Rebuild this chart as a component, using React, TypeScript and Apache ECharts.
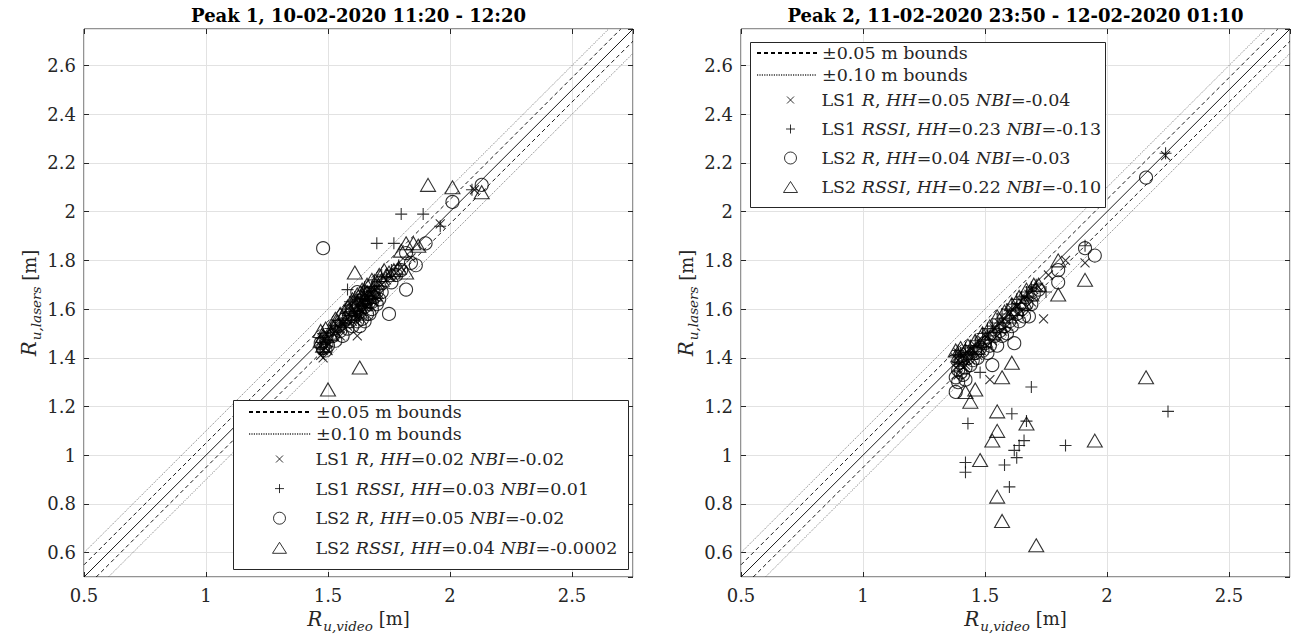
import React, { useEffect, useRef } from "react";
import * as echarts from "echarts";

const FONT = "'DejaVu Serif', serif";
const TXT = "#262626";

// ---- data ----
const titles = ["Peak 1, 10-02-2020 11:20 - 12:20", "Peak 2, 11-02-2020 23:50 - 12-02-2020 01:10"];

const identityLine = [[0.5, 0.5], [2.75, 2.75]];
const upper005 = [[0.5, 0.55], [2.7, 2.75]];
const lower005 = [[0.55, 0.5], [2.75, 2.7]];
const upper010 = [[0.5, 0.6], [2.65, 2.75]];
const lower010 = [[0.6, 0.5], [2.75, 2.65]];

const boundNames = ["±0.05 m bounds", "±0.10 m bounds"];

const p1Names = [
  "LS1 R, HH=0.02 NBI=-0.02",
  "LS1 RSSI, HH=0.03 NBI=0.01",
  "LS2 R, HH=0.05 NBI=-0.02",
  "LS2 RSSI, HH=0.04 NBI=-0.0002",
];
const p2Names = [
  "LS1 R, HH=0.05 NBI=-0.04",
  "LS1 RSSI, HH=0.23 NBI=-0.13",
  "LS2 R, HH=0.04 NBI=-0.03",
  "LS2 RSSI, HH=0.22 NBI=-0.10",
];
const richNames: Record<string, string> = {
  "LS1 R, HH=0.02 NBI=-0.02": "LS1 {i|R}, {i|HH}=0.02 {i|NBI}=-0.02",
  "LS1 RSSI, HH=0.03 NBI=0.01": "LS1 {i|RSSI}, {i|HH}=0.03 {i|NBI}=0.01",
  "LS2 R, HH=0.05 NBI=-0.02": "LS2 {i|R}, {i|HH}=0.05 {i|NBI}=-0.02",
  "LS2 RSSI, HH=0.04 NBI=-0.0002": "LS2 {i|RSSI}, {i|HH}=0.04 {i|NBI}=-0.0002",
  "LS1 R, HH=0.05 NBI=-0.04": "LS1 {i|R}, {i|HH}=0.05 {i|NBI}=-0.04",
  "LS1 RSSI, HH=0.23 NBI=-0.13": "LS1 {i|RSSI}, {i|HH}=0.23 {i|NBI}=-0.13",
  "LS2 R, HH=0.04 NBI=-0.03": "LS2 {i|R}, {i|HH}=0.04 {i|NBI}=-0.03",
  "LS2 RSSI, HH=0.22 NBI=-0.10": "LS2 {i|RSSI}, {i|HH}=0.22 {i|NBI}=-0.10",
};

const p1LS1R = [
  [1.47, 1.41], [1.47, 1.45], [1.48, 1.43], [1.48, 1.47], [1.49, 1.44], [1.49, 1.5], [1.5, 1.46], [1.51, 1.48],
  [1.52, 1.5], [1.53, 1.51], [1.55, 1.52], [1.56, 1.54], [1.57, 1.55], [1.58, 1.53], [1.59, 1.57], [1.6, 1.59],
  [1.6, 1.55], [1.61, 1.58], [1.62, 1.49], [1.62, 1.61], [1.63, 1.6], [1.64, 1.63], [1.65, 1.61], [1.66, 1.64],
  [1.67, 1.62], [1.68, 1.66], [1.69, 1.65], [1.7, 1.69], [1.72, 1.7], [1.74, 1.72], [1.76, 1.73], [1.78, 1.75],
  [1.8, 1.77], [1.84, 1.81], [1.96, 1.95], [2.1, 2.09], [1.58, 1.6], [1.61, 1.63], [1.63, 1.57], [1.64, 1.59],
  [1.66, 1.61], [1.67, 1.68], [1.69, 1.63], [1.71, 1.66], [1.62, 1.56], [1.65, 1.66], [1.55, 1.49], [1.53, 1.54],
  [1.5, 1.43], [1.48, 1.4],
];
const p1LS1RSSI = [
  [1.47, 1.44], [1.47, 1.48], [1.48, 1.42], [1.48, 1.5], [1.49, 1.46], [1.5, 1.49], [1.51, 1.52], [1.53, 1.53],
  [1.54, 1.51], [1.56, 1.56], [1.57, 1.54], [1.58, 1.68], [1.59, 1.59], [1.6, 1.62], [1.61, 1.57], [1.62, 1.64],
  [1.63, 1.62], [1.64, 1.66], [1.65, 1.64], [1.66, 1.67], [1.67, 1.65], [1.68, 1.69], [1.69, 1.67], [1.7, 1.87],
  [1.7, 1.71], [1.72, 1.74], [1.74, 1.73], [1.76, 1.76], [1.77, 1.87], [1.79, 1.78], [1.8, 1.99], [1.89, 1.99],
  [1.96, 1.94], [2.09, 2.09], [1.59, 1.63], [1.61, 1.65], [1.63, 1.58], [1.64, 1.61], [1.66, 1.62], [1.68, 1.64],
  [1.69, 1.72], [1.71, 1.68], [1.62, 1.59], [1.55, 1.53], [1.52, 1.47], [1.57, 1.6], [1.65, 1.69],
];
const p1LS2R = [
  [1.48, 1.85], [1.47, 1.46], [1.48, 1.44], [1.49, 1.48], [1.5, 1.45], [1.52, 1.49], [1.53, 1.47], [1.55, 1.51],
  [1.56, 1.49], [1.58, 1.52], [1.59, 1.55], [1.6, 1.53], [1.61, 1.57], [1.62, 1.55], [1.62, 1.67], [1.63, 1.59],
  [1.64, 1.56], [1.65, 1.61], [1.66, 1.58], [1.67, 1.63], [1.68, 1.6], [1.69, 1.65], [1.7, 1.62], [1.72, 1.67],
  [1.75, 1.58], [1.76, 1.71], [1.78, 1.74], [1.8, 1.76], [1.82, 1.68], [1.82, 1.83], [1.84, 1.79], [1.86, 1.78],
  [1.9, 1.87], [2.01, 2.04], [2.13, 2.11], [1.6, 1.6], [1.62, 1.62], [1.64, 1.64], [1.66, 1.66], [1.68, 1.63],
  [1.7, 1.67], [1.57, 1.56], [1.54, 1.53], [1.63, 1.53], [1.65, 1.55], [1.67, 1.58], [1.71, 1.64], [1.49, 1.43],
];
const p1LS2RSSI = [
  [1.47, 1.47], [1.47, 1.51], [1.48, 1.49], [1.48, 1.45], [1.49, 1.52], [1.5, 1.27], [1.51, 1.5], [1.52, 1.53],
  [1.54, 1.55], [1.56, 1.57], [1.57, 1.55], [1.59, 1.6], [1.6, 1.58], [1.61, 1.75], [1.62, 1.63], [1.63, 1.36],
  [1.63, 1.61], [1.64, 1.66], [1.65, 1.64], [1.66, 1.67], [1.67, 1.65], [1.68, 1.68], [1.7, 1.71], [1.71, 1.74],
  [1.73, 1.76], [1.75, 1.75], [1.77, 1.76], [1.79, 1.77], [1.8, 1.84], [1.82, 1.87], [1.82, 1.75], [1.85, 1.87],
  [1.87, 1.86], [1.91, 2.11], [2.01, 2.1], [2.13, 2.08], [1.58, 1.61], [1.6, 1.64], [1.62, 1.66], [1.64, 1.68],
  [1.66, 1.7], [1.68, 1.72], [1.63, 1.59], [1.65, 1.62], [1.55, 1.58], [1.53, 1.56], [1.69, 1.66], [1.72, 1.72],
  [1.74, 1.74],
];

const p2LS1R = [
  [1.38, 1.36], [1.38, 1.4], [1.39, 1.33], [1.4, 1.38], [1.41, 1.41], [1.42, 1.37], [1.43, 1.42], [1.45, 1.43],
  [1.46, 1.45], [1.48, 1.44], [1.49, 1.47], [1.5, 1.49], [1.52, 1.31], [1.52, 1.5], [1.53, 1.47], [1.54, 1.52],
  [1.56, 1.54], [1.57, 1.51], [1.58, 1.56], [1.6, 1.58], [1.61, 1.6], [1.62, 1.57], [1.63, 1.61], [1.65, 1.63],
  [1.66, 1.65], [1.68, 1.66], [1.7, 1.68], [1.72, 1.69], [1.74, 1.56], [1.76, 1.74], [1.83, 1.8], [1.91, 1.79],
  [2.24, 2.23], [1.39, 1.42], [1.41, 1.36], [1.44, 1.39], [1.47, 1.41], [1.51, 1.45], [1.55, 1.49], [1.59, 1.53],
  [1.64, 1.58], [1.67, 1.61], [1.69, 1.63],
];
const p2LS1RSSI = [
  [1.38, 1.41], [1.39, 1.43], [1.4, 1.42], [1.42, 1.44], [1.44, 1.45], [1.46, 1.47], [1.48, 1.34], [1.49, 1.5],
  [1.51, 1.52], [1.53, 1.53], [1.55, 1.56], [1.57, 1.58], [1.59, 1.6], [1.61, 1.62], [1.63, 1.64], [1.65, 1.65],
  [1.67, 1.67], [1.69, 1.69], [1.71, 1.7], [1.75, 1.67], [1.91, 1.86], [2.24, 2.24], [1.69, 1.28], [2.25, 1.18],
  [1.61, 1.17], [1.43, 1.13], [1.67, 1.14], [1.66, 1.06], [1.64, 1.04], [1.62, 1.02], [1.63, 0.99], [1.83, 1.04],
  [1.42, 0.97], [1.42, 0.93], [1.58, 0.96], [1.6, 0.87], [1.39, 1.38], [1.41, 1.39], [1.43, 1.41], [1.45, 1.42],
  [1.47, 1.45], [1.5, 1.46], [1.52, 1.49], [1.56, 1.52], [1.6, 1.56], [1.64, 1.6], [1.68, 1.65],
];
const p2LS2R = [
  [1.38, 1.26], [1.38, 1.32], [1.39, 1.35], [1.39, 1.3], [1.4, 1.38], [1.41, 1.33], [1.42, 1.36], [1.43, 1.4],
  [1.45, 1.39], [1.46, 1.42], [1.48, 1.44], [1.5, 1.46], [1.51, 1.42], [1.53, 1.37], [1.54, 1.49], [1.56, 1.51],
  [1.58, 1.53], [1.6, 1.55], [1.61, 1.53], [1.62, 1.46], [1.63, 1.58], [1.65, 1.6], [1.67, 1.62], [1.68, 1.57],
  [1.7, 1.66], [1.72, 1.68], [1.8, 1.76], [1.8, 1.71], [1.91, 1.85], [1.95, 1.82], [2.16, 2.14], [1.4, 1.34],
  [1.42, 1.31], [1.44, 1.37], [1.47, 1.4], [1.49, 1.43], [1.52, 1.45], [1.55, 1.45], [1.57, 1.49], [1.59, 1.5],
  [1.64, 1.55], [1.66, 1.57], [1.69, 1.62],
];
const p2LS2RSSI = [
  [1.38, 1.43], [1.39, 1.41], [1.4, 1.44], [1.41, 1.4], [1.42, 1.43], [1.43, 1.45], [1.44, 1.42], [1.46, 1.47],
  [1.47, 1.44], [1.49, 1.5], [1.5, 1.47], [1.52, 1.53], [1.53, 1.5], [1.55, 1.57], [1.56, 1.53], [1.58, 1.59],
  [1.6, 1.57], [1.61, 1.62], [1.63, 1.6], [1.64, 1.65], [1.66, 1.63], [1.67, 1.68], [1.69, 1.66], [1.7, 1.7],
  [1.72, 1.7], [1.8, 1.8], [1.8, 1.66], [1.91, 1.72], [2.16, 1.32], [1.95, 1.06], [1.57, 1.32], [1.61, 1.38],
  [1.46, 1.27], [1.44, 1.22], [1.55, 1.18], [1.67, 1.13], [1.55, 1.1], [1.53, 1.06], [1.48, 0.98], [1.55, 0.83],
  [1.57, 0.73], [1.71, 0.63], [1.42, 1.26],
];

// ---- styling helpers ----
const SYM_X = "path://M0,0L10,10M0,10L10,0";
const SYM_PLUS = "path://M5,0L5,10M0,5L10,5";
const SYM_TRI = "path://M5,0L10,8.66L0,8.66Z";
const CLEAR = "rgba(0,0,0,0)";

// legend icons: full-width path boxes (w x 12) with the glyph centred at cx
function legendIcons(w: number, cx: number) {
  const box = `M0,0M${w},12`;
  return [
    `path://${box}M${cx - 3.5},2.5L${cx + 3.5},9.5M${cx - 3.5},9.5L${cx + 3.5},2.5`,
    `path://${box}M${cx},1.5L${cx},10.5M${cx - 4.5},6L${cx + 4.5},6`,
    `path://${box}M${cx - 6},6A6,6 0 1,0 ${cx + 6},6A6,6 0 1,0 ${cx - 6},6Z`,
    `path://${box}M${cx},0.5L${cx + 7},11.5L${cx - 7},11.5Z`,
  ];
}

const markerDefs = [
  { symbol: SYM_X, size: 9 },
  { symbol: SYM_PLUS, size: 12 },
  { symbol: "circle", size: 13 },
  { symbol: SYM_TRI, size: [15, 13] },
];

const GRIDS = [
  { left: 84, top: 29, width: 549, height: 548 },
  { left: 741, top: 29, width: 549, height: 548 },
];

const nameRich = {
  r: { fontFamily: FONT, fontStyle: "italic", fontSize: 20, color: TXT, padding: [0, 1, 0, 0] },
  s: { fontFamily: FONT, fontStyle: "italic", fontSize: 13.5, color: TXT, padding: [14, 0, 0, 0] },
  m: { fontFamily: FONT, fontSize: 18, color: TXT },
};

function xAxes(gi: number) {
  const common = {
    type: "value",
    gridIndex: gi,
    min: 0.5,
    max: 2.75,
    splitNumber: 4,
    minInterval: 0.5,
    maxInterval: 0.5,
  };
  return [
    {
      ...common,
      position: "bottom",
      axisLine: { show: false },
      axisTick: { show: true, inside: true, length: 5, lineStyle: { color: TXT } },
      axisLabel: { color: TXT, fontSize: 18, fontFamily: FONT, margin: 9, showMaxLabel: false },
      splitLine: { show: true, lineStyle: { color: "#e2e2e2", width: 1 } },
      name: "{r|R}{s|u,video}{m| [m]}",
      nameLocation: "middle",
      nameGap: 27,
      nameTextStyle: { rich: nameRich },
    },
    {
      ...common,
      position: "top",
      axisLine: { show: false },
      axisTick: { show: true, inside: true, length: 5, lineStyle: { color: TXT } },
      axisLabel: { show: false },
      splitLine: { show: false },
    },
  ];
}

function yAxes(gi: number) {
  const common = {
    type: "value",
    gridIndex: gi,
    min: 0.5,
    max: 2.75,
    splitNumber: 10,
    minInterval: 0.2,
    maxInterval: 0.2,
  };
  return [
    {
      ...common,
      position: "left",
      axisLine: { show: false },
      axisTick: { show: true, inside: true, length: 5, lineStyle: { color: TXT } },
      axisLabel: {
        color: TXT,
        fontSize: 18,
        fontFamily: FONT,
        margin: 8,
        showMinLabel: false,
        showMaxLabel: false,
      },
      splitLine: { show: true, lineStyle: { color: "#e2e2e2", width: 1 } },
      name: "{r|R}{s|u,lasers}{m| [m]}",
      nameLocation: "middle",
      nameGap: 32,
      nameTextStyle: { rich: nameRich },
    },
    {
      ...common,
      position: "right",
      axisLine: { show: false },
      axisTick: { show: true, inside: true, length: 5, lineStyle: { color: TXT } },
      axisLabel: { show: false },
      splitLine: { show: false },
    },
  ];
}

function plotSeries(gi: number, names: string[], sets: number[][][]) {
  const ax = { xAxisIndex: gi * 2, yAxisIndex: gi * 2 };
  const line = (data: number[][], name: string | undefined, lineStyle: any) => ({
    type: "line",
    name,
    ...ax,
    data,
    symbol: "none",
    silent: true,
    z: 2,
    itemStyle: { color: CLEAR, borderWidth: 0 },
    lineStyle,
  });
  const dash = { color: "#000", width: 0.9, type: [4, 3] };
  const dot = { color: "#666", width: 0.8, type: [1.2, 1.2] };
  const out: any[] = [
    line(identityLine, undefined, { color: "#000", width: 0.9, type: "solid" }),
    line(upper005, boundNames[0], dash),
    line(lower005, boundNames[0], dash),
    line(upper010, boundNames[1], dot),
    line(lower010, boundNames[1], dot),
  ];
  sets.forEach((d, i) => {
    out.push({
      type: "scatter",
      name: names[i],
      ...ax,
      data: d,
      symbol: markerDefs[i].symbol,
      symbolSize: markerDefs[i].size,
      itemStyle: { color: CLEAR, borderColor: "#000", borderWidth: 1.1 },
      z: 3,
    });
  });
  return out;
}

const legendText = {
  fontFamily: FONT,
  fontSize: 17.5,
  color: TXT,
  lineHeight: 20,
  rich: {
    i: { fontFamily: FONT, fontStyle: "italic", fontSize: 17.5, lineHeight: 20, color: TXT },
  },
};

function legends(
  left: number,
  linesTop: number,
  markTop: number,
  iconW: number,
  markerCx: number,
  gap: number,
  names: string[]
) {
  const icons = legendIcons(iconW, markerCx);
  return [
    {
      orient: "vertical",
      left,
      top: linesTop,
      padding: 0,
      itemWidth: iconW,
      itemHeight: 20,
      itemGap: 2,
      selectedMode: false,
      z: 20,
      textStyle: legendText,
      itemStyle: { color: CLEAR, borderWidth: 0 },
      data: boundNames,
    },
    {
      orient: "vertical",
      left,
      top: markTop,
      padding: 0,
      itemWidth: iconW,
      itemHeight: 12,
      itemGap: gap,
      selectedMode: false,
      z: 20,
      textStyle: legendText,
      itemStyle: { color: CLEAR, borderColor: "#000", borderWidth: 1 },
      formatter: (n: string) => richNames[n] || n,
      data: names.map((n, i) => ({ name: n, icon: icons[i] })),
    },
  ];
}

export default function App() {
  const ref = useRef<HTMLDivElement>(null);
  useEffect(() => {
    document.body.style.margin = "0";
    if (!ref.current) return;
    const chart = echarts.init(ref.current, null, { renderer: "svg" });
    const option: any = {
      animation: false,
      backgroundColor: "#fff",
      grid: GRIDS.map((g) => ({ ...g, show: true, borderColor: TXT, borderWidth: 1, backgroundColor: "#fff" })),
      xAxis: [...xAxes(0), ...xAxes(1)],
      yAxis: [...yAxes(0), ...yAxes(1)],
      legend: [
        ...legends(248, 402, 449, 62, 31, 9.6, p1Names),
        ...legends(756, 43, 90, 60, 34, 9, p2Names),
      ],
      series: [
        ...plotSeries(0, p1Names, [p1LS1R, p1LS1RSSI, p1LS2R, p1LS2RSSI]),
        ...plotSeries(1, p2Names, [p2LS1R, p2LS1RSSI, p2LS2R, p2LS2RSSI]),
      ],
      graphic: [
        {
          type: "rect",
          z: 10,
          shape: { x: 233.5, y: 400.5, width: 395, height: 169 },
          style: { fill: "#fff", stroke: TXT, lineWidth: 1 },
        },
        {
          type: "rect",
          z: 10,
          shape: { x: 750.5, y: 42.5, width: 355, height: 165 },
          style: { fill: "#fff", stroke: TXT, lineWidth: 1 },
        },
        ...titles.map((t, i) => ({
          type: "text",
          x: GRIDS[i].left + GRIDS[i].width / 2,
          y: 15,
          style: {
            text: t,
            fontFamily: FONT,
            fontWeight: "bold",
            fontSize: 18,
            fill: "#000",
            align: "center",
            verticalAlign: "middle",
          },
        })),
      ],
    };
    chart.setOption(option);
    return () => chart.dispose();
  }, []);
  return <div ref={ref} style={{ width: 1296, height: 641 }} />;
}
